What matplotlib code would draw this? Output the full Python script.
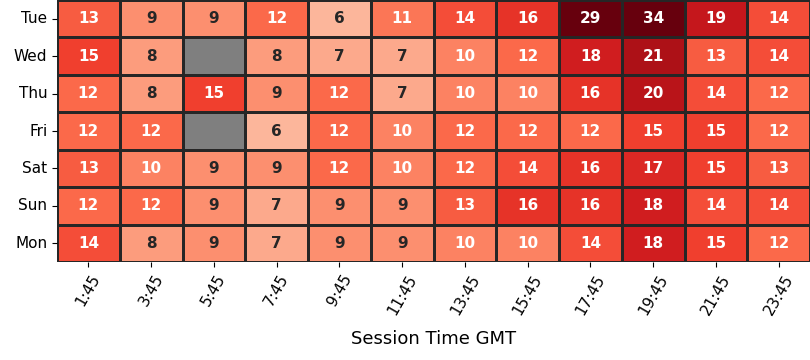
import numpy as np
import pandas as pd
import matplotlib
matplotlib.use("Agg")
import matplotlib.pyplot as plt
import seaborn as sns

days = ["Tue", "Wed", "Thu", "Fri", "Sat", "Sun", "Mon"]
times = ["1:45", "3:45", "5:45", "7:45", "9:45", "11:45",
         "13:45", "15:45", "17:45", "19:45", "21:45", "23:45"]
nan = np.nan
tue = [13, 9, 9, 12, 6, 11, 14, 16, 29, 34, 19, 14]
wed = [15, 8, nan, 8, 7, 7, 10, 12, 18, 21, 13, 14]
thu = [12, 8, 15, 9, 12, 7, 10, 10, 16, 20, 14, 12]
fri = [12, 12, nan, 6, 12, 10, 12, 12, 12, 15, 15, 12]
sat = [13, 10, 9, 9, 12, 10, 12, 14, 16, 17, 15, 13]
sun = [12, 12, 9, 7, 9, 9, 13, 16, 16, 18, 14, 14]
mon = [14, 8, 9, 7, 9, 9, 10, 10, 14, 18, 15, 12]

df = pd.DataFrame([tue, wed, thu, fri, sat, sun, mon], index=days, columns=times)

fig = plt.figure(figsize=(8.1, 3.6), dpi=100)
ax = fig.add_axes([0.0704, 0.272, 0.9296, 0.728])
ax.set_facecolor("#7f7f7f")
sns.heatmap(df, ax=ax, cmap="Reds", vmin=-1, vmax=25, annot=True, fmt=".0f",
            annot_kws={"fontsize": 11, "fontweight": "bold"},
            linewidths=0.8, linecolor="#262626", cbar=False)
ax.set_xticklabels(times, rotation=60, fontsize=11)
ax.set_yticklabels(days, rotation=0, fontsize=11)
ax.set_xlabel("Session Time GMT", fontsize=13, labelpad=9)
ax.set_ylabel("")
fig.savefig("out.png", dpi=100)
